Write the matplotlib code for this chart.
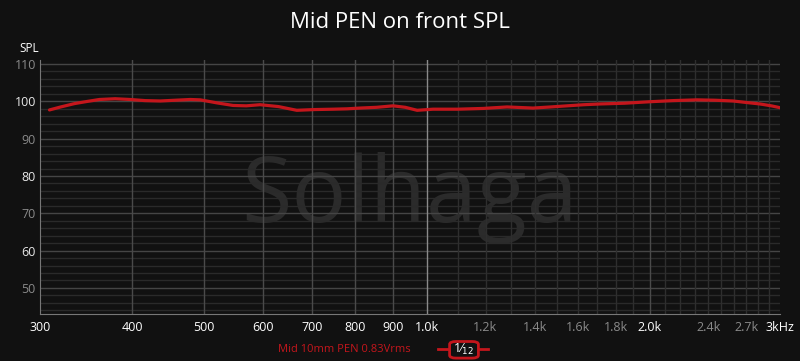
import matplotlib
matplotlib.use("Agg")
import matplotlib.pyplot as plt
from matplotlib.patches import FancyBboxPatch
from matplotlib.lines import Line2D

# frequency response
freq = [309, 320, 334, 348, 361, 379, 397, 416, 436, 457, 479, 494, 520, 547,
        570, 595, 630, 667, 705, 747, 780, 812, 855, 900, 935, 970, 1019, 1100,
        1191, 1283, 1391, 1470, 1547, 1630, 1714, 1850, 2002, 2150, 2317, 2450,
        2592, 2700, 2819, 2920, 3000]
spl = [97.7, 98.5, 99.4, 100.0, 100.5, 100.7, 100.5, 100.2, 100.1, 100.3, 100.5, 100.4, 99.6, 98.9,
       98.8, 99.1, 98.6, 97.6, 97.8, 97.9, 98.0, 98.2, 98.4, 98.8, 98.4, 97.6, 97.9, 97.9,
       98.1, 98.5, 98.2, 98.5, 98.8, 99.1, 99.3, 99.5, 99.9, 100.2, 100.4, 100.3,
       100.1, 99.7, 99.3, 98.8, 98.3]

xticks = [300, 400, 500, 600, 700, 800, 900, 1000, 1200, 1400, 1600, 1800, 2000, 2400, 2700, 3000]
xlabels = ["300", "400", "500", "600", "700", "800", "900", "1.0k", "1.2k", "1.4k",
           "1.6k", "1.8k", "2.0k", "2.4k", "2.7k", "3kHz"]
yticks = [50, 60, 70, 80, 90, 100, 110]

bg = "#111111"
red = "#c4161c"
font = "Open Sans"

fig = plt.figure(figsize=(8, 3.61), dpi=100, facecolor=bg)
ax = fig.add_axes([0.05, 0.13, 0.925, 0.704], facecolor=bg)
ax.set_xscale("log")
ax.set_xlim(300, 3000)
ax.set_ylim(43.0, 111.1)

# grid
for v in range(44, 112, 2):
    c = "#454545" if v % 10 == 0 else "#2a2a2a"
    ax.axhline(v, color=c, lw=1, zorder=1)
for f in range(400, 1000, 100):
    ax.axvline(f, color="#4a4a4a", lw=1, zorder=1)
for f in range(1100, 3000, 100):
    c = "#4a4a4a" if f == 2000 else "#2e2e2e"
    ax.axvline(f, color=c, lw=1, zorder=1)
ax.axvline(1000, color="#8a8a8a", lw=1, zorder=1)

ax.text(0.5, 0.362, "Solhaga", color="#2b2b2b", fontsize=66, family=font,
        ha="center", va="baseline", zorder=0.5, transform=ax.transAxes)

ax.plot(freq, spl, color=red, lw=2.3, zorder=3, solid_capstyle="round")

ax.set_xticks(xticks)
ax.set_xticklabels(xlabels)
ax.minorticks_off()
ax.set_yticks(yticks)
ax.tick_params(length=0, labelsize=9)
ax.tick_params(axis="x", pad=5)
ax.tick_params(axis="y", pad=3)
for lab, f in zip(ax.get_xticklabels(), xticks):
    lab.set_family(font)
    lab.set_color("#ffffff" if f in (1000, 2000, 3000) or f < 1000 else "#8a8a8a")
for lab, v in zip(ax.get_yticklabels(), yticks):
    lab.set_family(font)
    lab.set_color("#e8e8e8" if v % 20 == 0 else "#8a8a8a")

for s in ["top", "right"]:
    ax.spines[s].set_visible(False)
for s in ["left", "bottom"]:
    ax.spines[s].set_color("#777777")

fig.text(0.5, 0.938, "Mid PEN on front SPL", color="white", fontsize=16,
         family=font, ha="center", va="center")
fig.text(0.024, 0.866, "SPL", color="white", fontsize=8.5, family=font,
         ha="left", va="center")

# legend row
fig.text(0.513, 0.032, "Mid 10mm PEN 0.83Vrms", color=red, fontsize=8,
         family=font, ha="right", va="center")
fig.add_artist(Line2D([0.548, 0.61], [0.032, 0.032], color=red, lw=2,
                      transform=fig.transFigure))
fig.add_artist(FancyBboxPatch((0.562, 0.008), 0.036, 0.046,
                              boxstyle="round,pad=0,rounding_size=0.008",
                              facecolor=bg, edgecolor=red, lw=2,
                              transform=fig.transFigure, zorder=5))
fig.text(0.58, 0.032, "1\u2044$_{12}$", color="white", fontsize=9, family=font,
         ha="center", va="center", zorder=6)

fig.savefig("out.png", dpi=100, facecolor=bg)
